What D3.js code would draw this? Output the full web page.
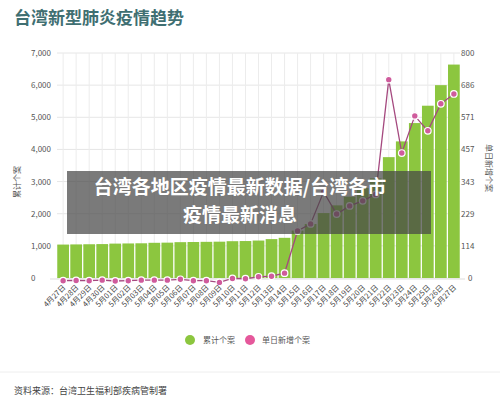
<!DOCTYPE html><html><head><meta charset="utf-8"><script src="https://cdn.jsdelivr.net/npm/d3@7"></script>
<style>body{margin:0;background:#fff}text{font-family:"Noto Sans CJK SC","Noto Sans",sans-serif}</style></head><body><svg id="c" width="500" height="405"></svg><script>
const dates=["4月27日","4月28日","4月29日","4月30日","5月01日","5月02日","5月03日","5月04日","5月05日","5月06日","5月07日","5月08日","5月09日","5月10日","5月11日","5月12日","5月13日","5月14日","5月15日","5月16日","5月17日","5月18日","5月19日","5月20日","5月21日","5月22日","5月23日","5月24日","5月25日","5月26日","5月27日"];
const cumulative=[1040,1045,1050,1055,1070,1075,1080,1095,1100,1115,1120,1125,1130,1145,1150,1165,1210,1250,1475,1680,2020,2260,2530,2800,3100,3760,4250,4820,5360,6000,6640];
const daily=[1,2,1,3,0,1,3,3,3,6,1,1,-5,9,8,15,17,28,178,203,317,238,267,285,308,716,455,587,534,630,665];
const leftTicks=[0,1000,2000,3000,4000,5000,6000,7000];
const rightTicks=[0,114,229,343,457,571,686,800];
const svg=d3.select("#c");
const x=d3.scaleBand().domain(dates).range([57,460]).paddingInner(0.1).paddingOuter(0.02);
const yl=d3.scaleLinear().domain([0,7000]).range([278,53]);
const yr=d3.scaleLinear().domain([0,800]).range([281,56]);
const g=svg.append("g");
leftTicks.forEach(t=>{g.append("line").attr("x1",57).attr("x2",460).attr("y1",yl(t)).attr("y2",yl(t)).attr("stroke","#e6e6e6");
 g.append("text").attr("x",31).attr("y",yl(t)+3).attr("font-size",8).attr("fill","#555").text(d3.format(",")(t));});
rightTicks.forEach((t,i)=>g.append("text").attr("x",t===0?468:461).attr("y",yl(i*1000)+3).attr("font-size",8).attr("fill","#555").text(t));
dates.forEach(d=>g.append("line").attr("x1",x(d)+x.bandwidth()/2).attr("x2",x(d)+x.bandwidth()/2).attr("y1",53).attr("y2",278).attr("stroke","#ececec"));
svg.append("g").selectAll("rect").data(cumulative).join("rect").attr("x",(d,i)=>x(dates[i])).attr("width",x.bandwidth()).attr("y",d=>yl(d)).attr("height",d=>278-yl(d)).attr("fill","#8cc63f");
svg.append("line").attr("x1",50).attr("x2",465).attr("y1",279).attr("y2",279).attr("stroke","#ddd");
const line=d3.line().x((d,i)=>x(dates[i])+x.bandwidth()/2).y(d=>yr(d));
svg.append("path").datum(daily).attr("d",line).attr("fill","none").attr("stroke","#a5497f").attr("stroke-width",1.3);
svg.append("g").selectAll("circle").data(daily).join("circle").attr("cx",(d,i)=>x(dates[i])+x.bandwidth()/2).attr("cy",d=>yr(d)).attr("r",3.3).attr("fill","#cf5b9c").attr("stroke","#fff").attr("stroke-width",1.2);
svg.append("g").selectAll("text").data(dates).join("text").attr("font-size",7.5).attr("fill","#444").attr("text-anchor","end")
 .attr("transform",d=>`translate(${x(d)+x.bandwidth()/2+3},${288}) rotate(-45)`).text(d=>d);
svg.append("text").attr("x",14).attr("y",24).attr("font-size",17).attr("font-weight","bold").attr("fill","#3f6f72").text("台湾新型肺炎疫情趋势");
svg.append("text").attr("transform","translate(20,182) rotate(-90)").attr("text-anchor","middle").attr("font-size",8).attr("fill","#555").text("累计个案");
svg.append("text").attr("transform","translate(486,168) rotate(90)").attr("text-anchor","middle").attr("font-size",8).attr("fill","#555").text("单日新增个案");
svg.append("circle").attr("cx",190).attr("cy",340).attr("r",5).attr("fill","#8cc63f");
svg.append("text").attr("x",203).attr("y",343).attr("font-size",8).attr("fill","#555").text("累计个案");
svg.append("circle").attr("cx",250).attr("cy",340).attr("r",5).attr("fill","#e5589b");
svg.append("text").attr("x",262).attr("y",343).attr("font-size",8).attr("fill","#555").text("单日新增个案");
svg.append("line").attr("x1",0).attr("x2",500).attr("y1",372).attr("y2",372).attr("stroke","#eee");
svg.append("text").attr("x",14).attr("y",394).attr("font-size",9).attr("fill","#444").text("资料来源：台湾卫生福利部疾病管制署");
svg.append("rect").attr("x",67).attr("y",171).attr("width",364).attr("height",63).attr("fill","rgba(70,70,70,0.72)");
svg.append("text").attr("x",240).attr("y",194).attr("text-anchor","middle").attr("font-size",19).attr("font-weight","bold").attr("fill","#fff").text("台湾各地区疫情最新数据/台湾各市");
svg.append("text").attr("x",240).attr("y",222).attr("text-anchor","middle").attr("font-size",19).attr("font-weight","bold").attr("fill","#fff").text("疫情最新消息");
</script></body></html>
